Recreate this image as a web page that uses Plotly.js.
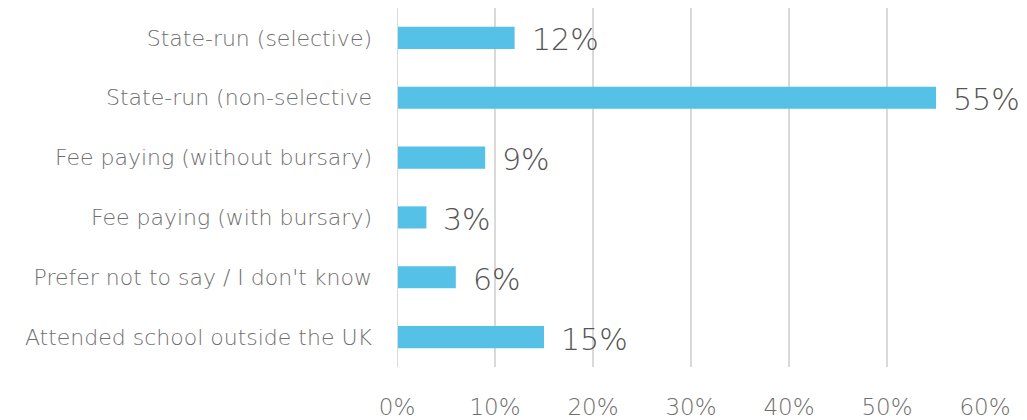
<!DOCTYPE html>
<html>
<head>
<meta charset="utf-8">
<script src="https://cdn.plot.ly/plotly-3.0.1.min.js"></script>
<style>html,body{margin:0;padding:0;background:#fff;}#chart{width:1027px;height:420px;}</style>
</head>
<body>
<div id="chart"></div>
<script>
const categories = [
  "State-run (selective)",
  "State-run (non-selective",
  "Fee paying (without bursary)",
  "Fee paying (with bursary)",
  "Prefer not to say / I don't know",
  "Attended school outside the UK"
];
const values = [0.12, 0.55, 0.09, 0.03, 0.06, 0.15];
const tickValues = [0, 0.1, 0.2, 0.3, 0.4, 0.5, 0.6];
const tickLabels = ["0%", "10%", "20%", "30%", "40%", "50%", "60%"];

const FONT = "'DejaVu Sans', 'Open Sans', sans-serif";

const trace = {
  type: "bar",
  orientation: "h",
  y: categories,
  x: values,
  marker: {color: "#56C1E6"},
  hoverinfo: "none"
};

const annotations = values.map((v, i) => ({
  x: v, y: categories[i], xref: "x", yref: "y",
  text: Math.round(v * 100) + "%",
  showarrow: false, xanchor: "left", yanchor: "middle",
  xshift: 15, yshift: -2,
  font: {family: FONT, size: 30, color: "#555555", weight: 200}
}));

const layout = {
  width: 1027, height: 420,
  margin: {l: 397, r: 42, t: 8, b: 53},
  paper_bgcolor: "#ffffff", plot_bgcolor: "#ffffff",
  showlegend: false,
  bargap: 0.63,
  font: {family: FONT},
  xaxis: {
    range: [0, 0.6],
    tickvals: tickValues, ticktext: tickLabels,
    showgrid: true, gridcolor: "#d9d9d9", gridwidth: 1.5,
    zeroline: false, showline: false,
    ticks: "", ticklabelstandoff: 24,
    tickfont: {family: FONT, size: 23, color: "#6f6f6f", weight: 200},
    fixedrange: true
  },
  yaxis: {
    categoryorder: "array", categoryarray: categories,
    autorange: "reversed",
    showgrid: false, zeroline: false,
    showline: false, ticks: "", ticklabelstandoff: 24,
    tickfont: {family: FONT, size: 22, color: "#6f6f6f", weight: 200},
    fixedrange: true
  },
  shapes: [{type: "line", xref: "x", yref: "paper", x0: 0, x1: 0, y0: 0, y1: 1,
            line: {color: "#d9d9d9", width: 2}}],
  annotations: annotations
};

Plotly.newPlot("chart", [trace], layout, {displayModeBar: false, staticPlot: true});
</script>
</body>
</html>
